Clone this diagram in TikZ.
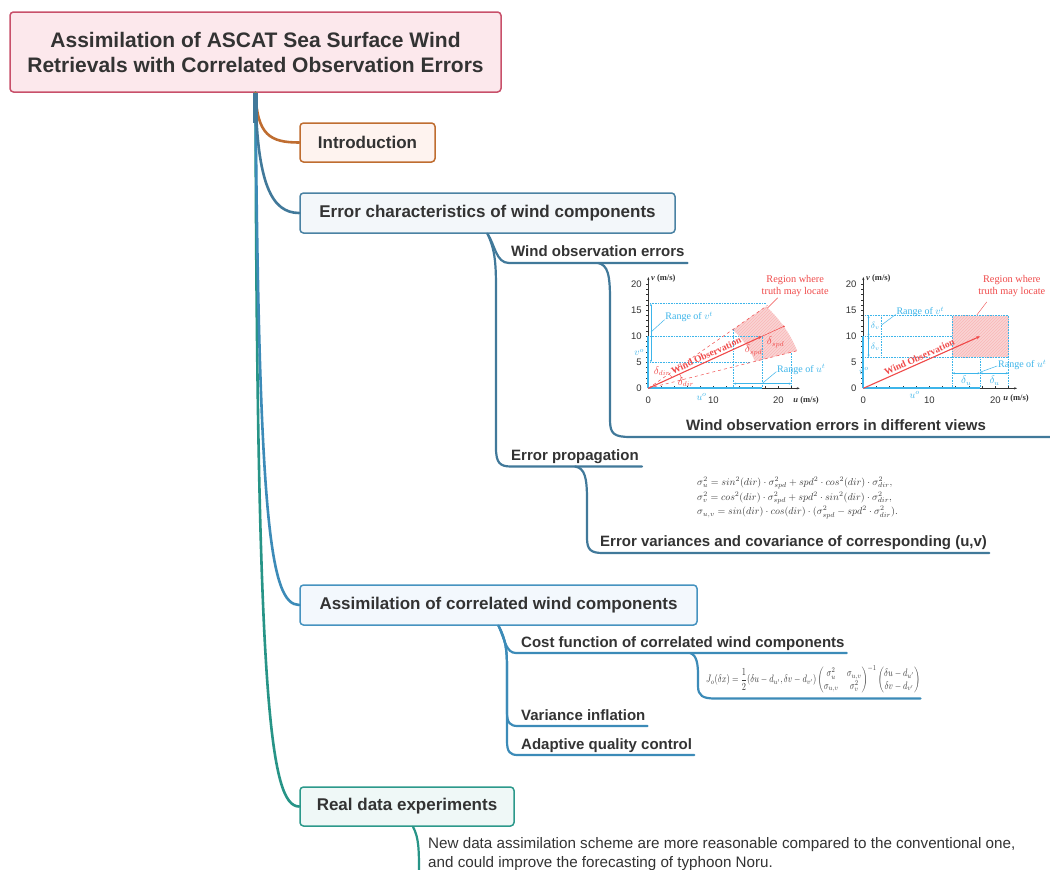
\documentclass[tikz,border=0pt]{standalone}
\usepackage{amsmath}
\usepackage{fontspec}
\setmainfont{Liberation Sans}
\newfontfamily\serifr{Liberation Serif}
\usetikzlibrary{arrows.meta,patterns,calc}
\definecolor{txtc}{HTML}{333333}
\definecolor{eqc}{HTML}{3A3A3A}
\definecolor{titlef}{HTML}{FCE8EC}
\definecolor{titled}{HTML}{C8506A}
\definecolor{introd}{HTML}{BF6D30}
\definecolor{introf}{HTML}{FEF3EF}
\definecolor{ecd}{HTML}{4A82A3}
\definecolor{ecf}{HTML}{F3F7FA}
\definecolor{ecline}{HTML}{41799A}
\definecolor{asd}{HTML}{4693C0}
\definecolor{asf}{HTML}{F3F8FD}
\definecolor{asline}{HTML}{3C8BB8}
\definecolor{rdd}{HTML}{2C998B}
\definecolor{rdf}{HTML}{EFF8F7}
\definecolor{rdline}{HTML}{279487}
\definecolor{redc}{HTML}{F04A4A}
\definecolor{regf}{HTML}{FAD4D4}
\definecolor{cyanc}{HTML}{3DB5EA}
\definecolor{axc}{HTML}{333333}
\begin{document}
\begin{tikzpicture}[x=1pt,y=-1pt,line join=round,
  box/.style={draw, rounded corners=3.5pt, line width=1.5pt, minimum height=39pt, inner sep=0pt, text=txtc, font=\fontsize{17}{20}\selectfont\bfseries},
  lab/.style={anchor=base west, inner sep=0pt, text=txtc, font=\fontsize{15}{18}\selectfont\bfseries},
  eql/.style={anchor=base west, inner sep=0pt, text=eqc, font=\fontsize{9.6}{10}\selectfont},
  conn/.style={line width=2.6pt, line cap=round},
  conn2/.style={line width=2.2pt, line cap=round},
  ax/.style={line width=0.5pt, draw=axc},
  cydot/.style={draw=cyanc, line width=0.6pt, densely dotted},
  cyar/.style={draw=cyanc, line width=0.5pt, {Stealth[length=2.5pt,width=2pt]}-{Stealth[length=2.5pt,width=2pt]}},
  rl/.style={text=redc, font=\serifr\fontsize{10.3}{11.5}\selectfont, align=center, inner sep=0pt},
  dl/.style={text=redc, font=\fontsize{10.5}{12}\selectfont, inner sep=0pt},
  cl/.style={text=cyanc, font=\serifr\fontsize{10}{11}\selectfont, inner sep=0pt},
  tk/.style={text=txtc, font=\fontsize{9.5}{10}\selectfont, inner sep=0pt},
  axl/.style={text=txtc, font=\serifr\bfseries\fontsize{8.5}{9}\selectfont, inner sep=0pt},
  wobs/.style={text=redc, font=\serifr\bfseries\fontsize{9.6}{10}\selectfont, inner sep=0pt, sloped},
  ]
\fill[white] (0,0) rectangle (1050,870);
\useasboundingbox (0,0) rectangle (1050,870);

% ---------- nodes ----------
\node[box, fill=titlef, draw=titled, minimum width=491pt, minimum height=80pt, align=center,
      font=\fontsize{21}{25}\selectfont\bfseries] (title) at (255.5,52)
  {Assimilation of ASCAT Sea Surface Wind\\Retrievals with Correlated Observation Errors};
\node[box, draw=introd, fill=introf, minimum width=135pt] (intro) at (367.5,142.5) {Introduction};
\node[box, draw=ecd, fill=ecf, minimum width=375pt, minimum height=40pt] (ec) at (487.5,213) {Error characteristics of wind components};
\node[box, draw=asd, fill=asf, minimum width=397pt, minimum height=40pt] (as) at (498.5,605) {Assimilation of correlated wind components};
\node[box, draw=rdd, fill=rdf, minimum width=214pt] (rd) at (407,806.5) {Real data experiments};

\node[lab] (wo) at (511,256.5) {Wind observation errors};
\node[lab] (ep) at (511,460.5) {Error propagation};
\node[lab, anchor=base] (wv) at (836,430) {Wind observation errors in different views};
\node[lab] (ev) at (600,546.5) {Error variances and covariance of corresponding (u,v)};
\node[lab] (cf) at (521,647.5) {Cost function of correlated wind components};
\node[lab] (vi) at (521,720.5) {Variance inflation};
\node[lab] (aq) at (521,749.5) {Adaptive quality control};
\node[anchor=north west, align=left, inner sep=0pt, text=txtc, font=\fontsize{15.2}{19}\selectfont] (rt) at (428,837.5)
  {New data assimilation scheme are more reasonable compared to the conventional one,\\and could improve the forecasting of typhoon Noru.};

% equations
\node[eql] (eq1) at (697,485) {$\sigma_u^2 = sin^2(dir)\cdot\sigma_{spd}^2 + spd^2\cdot cos^2(dir)\cdot\sigma_{dir}^2,$};
\node[eql] (eq2) at (697,500) {$\sigma_v^2 = cos^2(dir)\cdot\sigma_{spd}^2 + spd^2\cdot sin^2(dir)\cdot\sigma_{dir}^2,$};
\node[eql] (eq3) at (697,514.5) {$\sigma_{u,v} = sin(dir)\cdot cos(dir)\cdot(\sigma_{spd}^2 - spd^2\cdot\sigma_{dir}^2).$};
\node[anchor=north west, inner sep=0pt, text=eqc] (eqb) at (706,665)
  {\resizebox*{214pt}{28pt}{$J_o(\delta x)=\dfrac{1}{2}(\delta u-d_{u'},\delta v-d_{v'})
    \begin{pmatrix}\sigma_u^2 & \sigma_{u,v}\\ \sigma_{u,v} & \sigma_v^2\end{pmatrix}^{-1}
    \begin{pmatrix}\delta u-d_{u'}\\ \delta v-d_{v'}\end{pmatrix}$}};
\coordinate (u4) at (715,698.5);

% ---------- top-level connectors ----------
\draw[conn, rdline] (title.south) .. controls (257,700) and (270,806.5) .. (rd.west);
\draw[conn, asline] (title.south) .. controls (259,520) and (270,605) .. (as.west);
\draw[conn, ecline] (title.south) .. controls (257,185) and (272,213) .. (ec.west);
\draw[conn, introd] (title.south) .. controls (257,135) and (270,142.5) .. (intro.west);
\draw[ecline, line width=4.5pt] (title.south) -- ++(0,30);

% ---------- second level ----------
\draw[conn2, ecline] (ec.south) .. controls (495,245) and (496,263) .. ($(wo.base west)+(-2,6.5)$) -- ($(wo.base east)+(3,6.5)$);
\draw[conn2, ecline] (ec.south) .. controls (495,250) and (496,262) .. (496,290) -- (496,448)
   .. controls (496,463) and (500,466.5) .. ($(ep.base west)+(0,6)$) -- ($(ep.base east)+(3,6)$);
\draw[conn2, ecline] ($(wo.base west)+(87,6.5)$) .. controls (608,265) and (610,275) .. (610,300) -- (610,420)
   .. controls (610,434) and (614,437) .. ($(wv.base west)+(-55,7)$) -- (1052,437);
\draw[conn2, ecline] ($(ep.base west)+(64,6)$) .. controls (585,468) and (587,478) .. (587,500) -- (587,538)
   .. controls (587,550) and (591,553) .. ($(ev.base west)+(3,6.5)$) -- ($(ev.base east)+(2,6.5)$);

\draw[conn2, asline] (as.south) .. controls (505,640) and (506,653) .. ($(cf.base west)+(-5,5.5)$) -- ($(cf.base east)+(2,5.5)$);
\draw[conn2, asline] (as.south) .. controls (506,640) and (507,650) .. (507,670) -- (507,712)
   .. controls (507,723) and (510,726) .. ($(vi.base west)+(-3,5.5)$) -- ($(vi.base east)+(2,5.5)$);
\draw[conn2, asline] (as.south) .. controls (506,640) and (507,650) .. (507,670) -- (507,741)
   .. controls (507,752) and (510,755) .. ($(aq.base west)+(-3,5.5)$) -- ($(aq.base east)+(2,5.5)$);
\draw[conn2, asline] ($(cf.base west)+(169,5.5)$) .. controls (697,655) and (698,665) .. (698,675) -- (698,686)
   .. controls (698,696) and (703,698.5) .. (u4) -- (u4 -| eqb.east);

\draw[conn2, rdline] ([xshift=6pt]rd.south) .. controls (419,838) and (419,850) .. (419,875);

% ---------- plot 1 ----------
\begin{scope}[shift={(648.3,388.3)},x=6.5pt,y=5.2pt]
 \fill[regf] plot[domain=17.5:41,samples=24] ({17.2*cos(\x)},{17.2*sin(\x)}) -- plot[domain=41:17.5,samples=24] ({24*cos(\x)},{24*sin(\x)}) -- cycle;
 \path[pattern=north east lines, pattern color=redc!40] plot[domain=17.5:41,samples=24] ({17.2*cos(\x)},{17.2*sin(\x)}) -- plot[domain=41:17.5,samples=24] ({24*cos(\x)},{24*sin(\x)}) -- cycle;
 \draw[cydot] (0,16.3) -- (18.1,16.3);
 \draw[cydot] (0,10) -- (17.5,10);
 \draw[cydot] (0,5) -- (15.6,5);
 \draw[cydot] (13.1,0) -- (13.1,11.4);
 \draw[cydot] (17.5,0) -- (17.5,10);
 \draw[cydot] (22,0) -- (22,6.9);
 \draw[ax,-{Stealth[length=3pt,width=2.2pt]}] (0,0) -- (23.3,0);
 \draw[ax,-{Stealth[length=3pt,width=2.2pt]}] (0,0) -- (0,21.4);
 \foreach \i in {2,4,...,22} \draw[ax] (\i,0) -- (\i,0.5);
 \foreach \j in {1,...,20} \draw[ax] (0,\j) -- (-0.3,\j);
 \foreach \i in {0,10,20} \node[tk] at (\i,-2.25) {\i};
 \foreach \j in {0,5,10,15,20} \node[tk,anchor=east] at (-1.0,\j) {\j};
 \node[axl,anchor=west] at (22.3,-2.3) {\textit{u} (m/s)};
 \node[axl,anchor=west] at (0.4,21.1) {\textit{v} (m/s)};
 \draw[cyanc,line width=1.8pt] (0,0) -- (17.5,0);
 \draw[cyanc,line width=1.8pt] (0,0) -- (0,10);
 \draw[cyar] (0.4,5) -- (0.4,16.3);
 \draw[cyar] (13.1,0.9) -- (22,0.9);
 \draw[cyanc,line width=0.5pt] (0.4,10.8) -- (2.5,13.2);
 \draw[cyanc,line width=0.5pt] (17.5,0.9) -- (19.7,3.2);
 \node[cl,anchor=west] at (2.6,13.7) {Range of $v^t$};
 \node[cl,anchor=west] at (19.8,3.65) {Range of $u^t$};
 \node[cl] at (8.2,-1.7) {$u^o$};
 \node[cl] at (-1.4,6.9) {$v^o$};
 \draw[redc,dashed,line width=0.5pt] (0,0) -- (41:24.3);
 \draw[redc,dashed,line width=0.5pt] (0,0) -- (17.5:24.3);
 \draw[redc,line width=0.5pt] (17.5,10) -- (29.74:24);
 \fill[redc] (29.74:24) circle[radius=1.1pt];
 \draw[redc,line width=0.4pt] plot[domain=17.5:29.74,samples=8] ({5.5*cos(\x)},{5.5*sin(\x)});
 \draw[redc,line width=0.4pt] plot[domain=29.74:41,samples=8] ({4.2*cos(\x)},{4.2*sin(\x)});
 \draw[redc,line width=1.1pt,-{Stealth[length=4pt,width=3pt]}] (0,0) -- node[wobs,above=1.8pt,pos=0.53]{Wind Observation} (17.5,10);
 \node[dl] at (2.1,3.3) {$\delta_{dir}$};
 \node[dl] at (5.8,1.2) {$\delta_{dir}$};
 \node[dl] at (19.6,8.8) {$\delta_{spd}$};
 \node[dl] at (16.2,7.3) {$\delta_{spd}$};
 \node[rl,anchor=south] at (22.6,17.6) {Region where\\truth may locate};
 \draw[redc,line width=0.4pt] (19.9,17.4) -- (18.3,15.4);
\end{scope}

% ---------- plot 2 ----------
\begin{scope}[shift={(863.3,388.3)},x=6.6pt,y=5.2pt]
 \fill[regf] (13.5,6) rectangle (22,14);
 \path[pattern=north east lines, pattern color=redc!40] (13.5,6) rectangle (22,14);
 \draw[cydot] (0,14) -- (22,14);
 \draw[cydot] (0,6) -- (22,6);
 \draw[cydot] (0,10) -- (13.5,10);
 \draw[cydot] (13.5,0) -- (13.5,14);
 \draw[cydot] (17.7,0) -- (17.7,6);
 \draw[cydot] (22,0) -- (22,14);
 \draw[cydot] (2.8,6) -- (2.8,14);
 \draw[ax,-{Stealth[length=3pt,width=2.2pt]}] (0,0) -- (23.3,0);
 \draw[ax,-{Stealth[length=3pt,width=2.2pt]}] (0,0) -- (0,21.4);
 \foreach \i in {2,4,...,22} \draw[ax] (\i,0) -- (\i,0.5);
 \foreach \j in {1,...,20} \draw[ax] (0,\j) -- (-0.3,\j);
 \foreach \i in {0,10,20} \node[tk] at (\i,-2.25) {\i};
 \foreach \j in {0,5,10,15,20} \node[tk,anchor=east] at (-1.0,\j) {\j};
 \node[axl,anchor=west] at (21.2,-2.0) {\textit{u} (m/s)};
 \node[axl,anchor=west] at (0.4,21.1) {\textit{v} (m/s)};
 \draw[cyanc,line width=1.8pt] (0,0) -- (17.7,0);
 \draw[cyanc,line width=1.8pt] (0,0) -- (0,10);
 \draw[cyar] (0.8,14) -- (0.8,10);
 \draw[cyar] (0.8,10) -- (0.8,6);
 \draw[cyar] (13.5,2.9) -- (17.7,2.9);
 \draw[cyar] (17.7,2.9) -- (22,2.9);
 \node[cl,font=\fontsize{9}{10}\selectfont] at (1.8,12) {$\delta_v$};
 \node[cl,font=\fontsize{9}{10}\selectfont] at (1.8,8) {$\delta_v$};
 \node[cl,font=\fontsize{10.5}{11}\selectfont] at (15.6,1.5) {$\delta_u$};
 \node[cl,font=\fontsize{10.5}{11}\selectfont] at (19.9,1.5) {$\delta_u$};
 \draw[cyanc,line width=0.5pt] (2.8,12.2) -- (4.9,14.2);
 \draw[cyanc,line width=0.5pt] (17.7,3.1) -- (20.3,4.3);
 \node[cl,anchor=west] at (5.0,14.7) {Range of $v^t$};
 \node[cl,anchor=west] at (20.4,4.5) {Range of $u^t$};
 \node[cl] at (7.8,-1.3) {$u^o$};
 \node[cl] at (0.1,3.3) {$v^o$};
 \draw[redc,line width=1.1pt,-{Stealth[length=4pt,width=3pt]}] (0,0) -- node[wobs,above=1.8pt,pos=0.5]{Wind Observation} (17.7,10);
 \node[rl,anchor=south] at (22.5,17.6) {Region where\\truth may locate};
 \draw[redc,line width=0.4pt] (18.7,16.6) -- (17.2,14.1);
\end{scope}
\end{tikzpicture}
\end{document}
